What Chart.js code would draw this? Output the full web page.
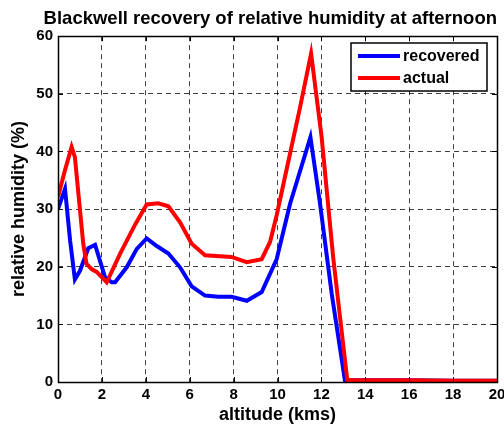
<!DOCTYPE html>
<html>
<head>
<meta charset="utf-8">
<script src="https://cdn.jsdelivr.net/npm/chart.js@4.4.0/dist/chart.umd.min.js"></script>
<style>
  html, body { margin: 0; padding: 0; background: #fff; }
  #wrap { width: 504px; height: 426px; }
</style>
</head>
<body>
<div id="wrap"><canvas id="rhChart" width="504" height="426"></canvas></div>
<script>
(function () {
    "use strict";

    // values
    var recoveredAlt = [0, 0.32, 0.55, 0.77, 1.0, 1.38, 1.69, 2.14, 2.45, 2.6, 3.13, 3.59, 4.04, 4.5, 5.03, 5.56, 6.09, 6.7, 7.3, 7.91, 8.6, 9.28, 9.96, 10.57, 11.5, 11.94, 12.47, 13.07, 14, 16, 18, 20];
    var recoveredRH = [30.0, 33.5, 24.6, 17.8, 19.3, 23.2, 23.8, 18.2, 17.3, 17.3, 19.9, 23.1, 24.9, 23.6, 22.3, 19.9, 16.6, 15.0, 14.8, 14.8, 14.1, 15.6, 21.3, 30.9, 42.5, 30.9, 15.3, 0.3, 0.3, 0.3, 0.2, 0.2];

    var actualAlt = [0, 0.3, 0.62, 0.77, 1.15, 1.3, 1.53, 1.76, 2.22, 2.82, 3.51, 4.04, 4.57, 5.03, 5.56, 6.09, 6.7, 7.9, 8.6, 9.28, 9.66, 9.96, 10.57, 11.03, 11.53, 12.01, 12.54, 13.18, 14, 16, 18, 20];
    var actualRH = [32.1, 36.5, 40.8, 39.0, 24.0, 20.5, 19.6, 19.1, 17.3, 22.2, 27.3, 30.8, 31.0, 30.5, 27.7, 24.0, 22.0, 21.7, 20.8, 21.3, 24.3, 28.9, 39.6, 47.7, 57.0, 42.5, 21.5, 0.3, 0.3, 0.3, 0.2, 0.2];

    var xTicks = [0, 2, 4, 6, 8, 10, 12, 14, 16, 18, 20];
    var yTicks = [0, 10, 20, 30, 40, 50, 60];

    function toPoints(xs, ys) {
        return xs.map(function (x, i) { return { x: x, y: ys[i] }; });
    }

    var fam = "'Liberation Sans', Arial, sans-serif";
    var titleFont = { family: fam, size: 18, weight: 'bold' };
    var tickFont = { family: fam, size: 15, weight: 'bold' };

    // matlab style box, inward ticks and legend
    var boxPlugin = {
        id: 'boxPlugin',
        afterDraw: function (chart) {
            var ctx = chart.ctx;
            var a = chart.chartArea;
            var xs = chart.scales.x, ys = chart.scales.y;
            var len = 5;
            ctx.save();
            ctx.strokeStyle = '#000';
            ctx.lineWidth = 1;
            ctx.beginPath();
            xTicks.forEach(function (t) {
                var px = Math.round(xs.getPixelForValue(t)) + 0.5;
                ctx.moveTo(px, a.bottom); ctx.lineTo(px, a.bottom - len);
                ctx.moveTo(px, a.top); ctx.lineTo(px, a.top + len);
            });
            yTicks.forEach(function (t) {
                var py = Math.round(ys.getPixelForValue(t)) + 0.5;
                ctx.moveTo(a.left, py); ctx.lineTo(a.left + len, py);
                ctx.moveTo(a.right, py); ctx.lineTo(a.right - len, py);
            });
            ctx.stroke();
            ctx.lineWidth = 1.5;
            ctx.strokeRect(Math.round(a.left) + 0.5, Math.round(a.top) + 0.5,
                Math.round(a.right - a.left), Math.round(a.bottom - a.top));

            // legend
            var lx = Math.round(a.right) - 146, ly = Math.round(a.top) + 7, lw = 136, lh = 48;
            ctx.fillStyle = '#fff';
            ctx.fillRect(lx, ly, lw, lh);
            ctx.lineWidth = 1.5;
            ctx.strokeRect(lx, ly, lw, lh);
            ctx.font = 'bold 16px ' + fam;
            ctx.textBaseline = 'middle';
            chart.data.datasets.forEach(function (ds, i) {
                var yy = ly + 13 + i * 22;
                ctx.strokeStyle = ds.borderColor;
                ctx.lineWidth = 4;
                ctx.beginPath();
                ctx.moveTo(lx + 7, yy);
                ctx.lineTo(lx + 49, yy);
                ctx.stroke();
                ctx.fillStyle = '#000';
                ctx.fillText(ds.label, lx + 52, yy + 1);
            });
            ctx.restore();
        }
    };

    var ctx = document.getElementById("rhChart");
    var myChart = new Chart(ctx, {
        type: 'line',
        data: {
            datasets: [{
                label: 'recovered',
                data: toPoints(recoveredAlt, recoveredRH),
                borderColor: '#0000ff',
                borderWidth: 4,
                pointRadius: 0,
                tension: 0,
                fill: false,
                order: 1
            }, {
                label: 'actual',
                data: toPoints(actualAlt, actualRH),
                borderColor: '#ff0000',
                borderWidth: 4,
                pointRadius: 0,
                tension: 0,
                fill: false,
                order: 0
            }]
        },
        options: {
            responsive: false,
            animation: false,
            layout: { padding: { left: 0, right: 7, top: 0, bottom: 0 } },
            plugins: {
                legend: { display: false },
                tooltip: { enabled: false },
                title: {
                    display: true,
                    align: 'end',
                    text: 'Blackwell recovery of relative humidity at afternoon',
                    color: '#000',
                    font: { family: fam, size: 18.5, weight: 'bold' },
                    padding: { top: 8, bottom: 6 }
                }
            },
            scales: {
                x: {
                    type: 'linear',
                    min: 0,
                    max: 20,
                    afterFit: function (s) { s.height = 44; s.paddingLeft = 0; s.paddingRight = 0; },
                    afterBuildTicks: function (s) { s.ticks = xTicks.map(function (v) { return { value: v }; }); },
                    ticks: { color: '#000', font: tickFont, padding: 4, maxRotation: 0 },
                    grid: { color: 'rgba(0,0,0,0.75)', lineWidth: 1, drawTicks: false },
                    border: { display: false, dash: [5, 4] },
                    title: { display: true, text: 'altitude (kms)', color: '#000', font: titleFont, padding: { top: 0, bottom: 0 } }
                },
                y: {
                    type: 'linear',
                    min: 0,
                    max: 60,
                    afterFit: function (s) { s.width = 58; },
                    afterBuildTicks: function (s) { s.ticks = yTicks.map(function (v) { return { value: v }; }); },
                    ticks: { color: '#000', font: tickFont, padding: 5 },
                    grid: { color: 'rgba(0,0,0,0.75)', lineWidth: 1, drawTicks: false },
                    border: { display: false, dash: [5, 4] },
                    title: { display: true, text: 'relative humidity (%)', color: '#000', font: titleFont, padding: { top: 8, bottom: 0 } }
                }
            }
        },
        plugins: [boxPlugin]
    });
})();
</script>
</body>
</html>
